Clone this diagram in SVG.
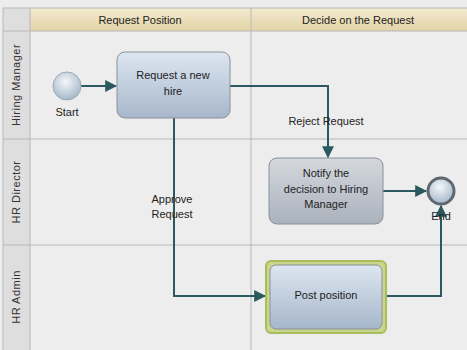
<svg xmlns="http://www.w3.org/2000/svg" width="467" height="350" viewBox="0 0 467 350">
<defs>
<linearGradient id="hdr" x1="0" y1="0" x2="0" y2="1"><stop offset="0" stop-color="#f3ead0"/><stop offset="1" stop-color="#e2d3a6"/></linearGradient>
<linearGradient id="task" x1="0" y1="0" x2="0" y2="1"><stop offset="0" stop-color="#dde6f0"/><stop offset="0.45" stop-color="#c4d1e0"/><stop offset="1" stop-color="#a7b6ca"/></linearGradient>
<linearGradient id="task2" x1="0" y1="0" x2="0" y2="1"><stop offset="0" stop-color="#d4d8dd"/><stop offset="1" stop-color="#aab2bd"/></linearGradient>
<radialGradient id="ev" cx="0.45" cy="0.35" r="0.7"><stop offset="0" stop-color="#f4f7fa"/><stop offset="1" stop-color="#9fb2c6"/></radialGradient>
<marker id="arr" viewBox="0 0 10 10" refX="9" refY="5" markerWidth="6" markerHeight="6" orient="auto"><path d="M0,0 L10,5 L0,10 z" fill="#2a5a60"/></marker>
<style>
.t{font-family:"Liberation Sans",Arial,sans-serif;font-size:11px;fill:#222;text-anchor:middle}
.lane{font-family:"Liberation Sans",Arial,sans-serif;font-size:11px;fill:#333;text-anchor:middle;letter-spacing:0.5px}
.grid{stroke:#b8b8b8;stroke-width:1;fill:none}
.c{stroke:#2a5a60;stroke-width:2;fill:none}
.box{stroke:#8a9099;stroke-width:1}
</style>
</defs>
<rect width="467" height="350" fill="#ededed"/>
<rect x="30" y="8" width="437" height="23" fill="url(#hdr)"/>
<rect x="3" y="8" width="27" height="342" fill="#dedede"/>
<g class="grid">
<line x1="3" y1="31" x2="467" y2="31"/>
<line x1="3" y1="139" x2="467" y2="139"/>
<line x1="3" y1="245" x2="467" y2="245"/>
<line x1="30" y1="8" x2="30" y2="350"/>
<line x1="251" y1="8" x2="251" y2="350"/>
<line x1="3" y1="8" x2="3" y2="350"/>
<line x1="3" y1="8" x2="467" y2="8"/>
</g>
<text class="t" x="140" y="24">Request Position</text>
<text class="t" x="358" y="24">Decide on the Request</text>
<text class="lane" transform="translate(20,85) rotate(-90)">Hiring Manager</text>
<text class="lane" transform="translate(20,192) rotate(-90)">HR Director</text>
<text class="lane" transform="translate(20,297) rotate(-90)">HR Admin</text>
<g id="connectors">
<line class="c" x1="81" y1="86" x2="116" y2="86" marker-end="url(#arr)"/>
<polyline class="c" points="230,86 328,86 328,157" marker-end="url(#arr)"/>
<polyline class="c" points="174,118 174,296 265,296" marker-end="url(#arr)"/>
<line class="c" x1="383" y1="191" x2="426" y2="191" marker-end="url(#arr)"/>
<polyline class="c" points="385,296 441,296 441,206" marker-end="url(#arr)"/>
<text class="t" x="326" y="125">Reject Request</text>
<text class="t" x="172" y="203">Approve</text>
<text class="t" x="172" y="218">Request</text>
</g>
<g id="start">
<circle cx="67" cy="86" r="14" fill="url(#ev)" stroke="#9aa8b6" stroke-width="1"/>
<text class="t" x="67" y="116">Start</text>
</g>
<g id="request">
<rect class="box" x="117" y="52" width="113" height="66" rx="8" fill="url(#task)"/>
<text class="t" x="173" y="79">Request a new</text>
<text class="t" x="173" y="95">hire</text>
</g>
<g id="notify">
<rect class="box" x="269" y="158" width="114" height="66" rx="8" fill="url(#task2)"/>
<text class="t" x="326" y="177">Notify the</text>
<text class="t" x="326" y="193">decision to Hiring</text>
<text class="t" x="326" y="208">Manager</text>
</g>
<g id="end">
<circle cx="441" cy="191" r="13" fill="url(#ev)" stroke="#5f6870" stroke-width="3"/>
<text class="t" x="441" y="220">End</text>
</g>
<g id="post">
<rect x="266" y="261" width="120" height="72" rx="5" fill="#c9d68c" stroke="#a8bd5c" stroke-width="2"/>
<rect class="box" x="270" y="265" width="112" height="64" rx="6" fill="url(#task)"/>
<text class="t" x="326" y="299">Post position</text>
</g>
</svg>
